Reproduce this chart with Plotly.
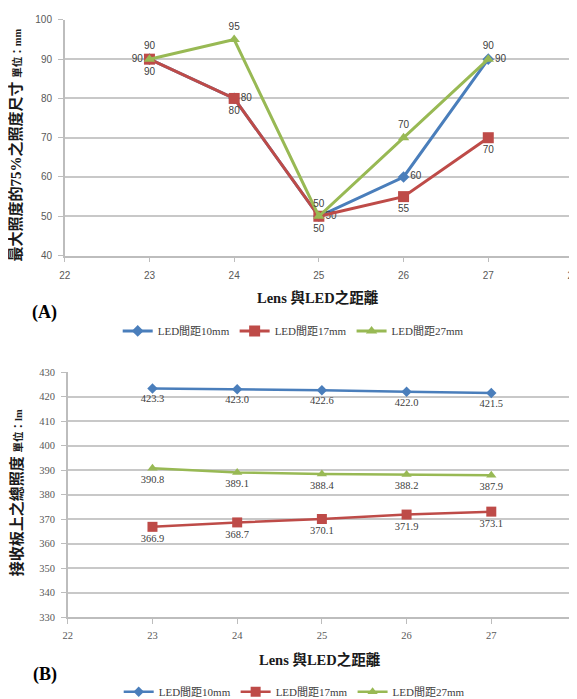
import plotly.graph_objects as go

# ---- data ----
x_dist = [23, 24, 25, 26, 27]
series_names = ["LED間距10mm", "LED間距17mm", "LED間距27mm"]

a_led10 = [90, 80, 50, 60, 90]
a_led17 = [90, 80, 50, 55, 70]
a_led27 = [90, 95, 50, 70, 90]

b_led10 = [423.3, 423.0, 422.6, 422.0, 421.5]
b_led17 = [366.9, 368.7, 370.1, 371.9, 373.1]
b_led27 = [390.8, 389.1, 388.4, 388.2, 387.9]

a_ytitle = "最大照度的75%之照度尺寸 <span style='font-size:10.5px'>單位：mm</span>"
b_ytitle = "接收板上之總照度 <span style='font-size:10.5px'>單位：lm</span>"
x_title = "Lens 與LED之距離"

colors = ["#4A7EBB", "#BE4B48", "#98B954"]
symbols = ["diamond", "square", "triangle-up"]

W, H = 577, 699
SERIF = "Liberation Serif, Noto Sans CJK TC"
SANS = "Liberation Sans, Noto Sans CJK TC"

# screen-to-figure compensation (page offset / scale observed in rendering)
SX, SY, OFF = 0.973, 0.978, 16.0


def px_x(t):
    return (t / SX - OFF) / W


def px_y(t):
    return 1 - (t / SY - OFF) / H


fig = go.Figure()

# ---- chart A ----
a_pos = [
    ["middle left", "middle right", "middle right", "middle right", "middle right"],
    ["bottom center"] * 5,
    ["top center"] * 5,
]
for i, ys in enumerate([a_led10, a_led17, a_led27]):
    fig.add_trace(go.Scatter(
        x=x_dist, y=ys, name=series_names[i], mode="lines+markers+text",
        text=[f"{v:g}" for v in ys], textposition=a_pos[i],
        textfont=dict(family=SANS, size=10, color="#404040"),
        line=dict(color=colors[i], width=3),
        marker=dict(symbol=symbols[i], size=[9, 11, 10][i], color=colors[i]),
        xaxis="x", yaxis="y", legend="legend", cliponaxis=False,
    ))

# ---- chart B ----
for i, ys in enumerate([b_led10, b_led17, b_led27]):
    fig.add_trace(go.Scatter(
        x=x_dist, y=ys, name=series_names[i], mode="lines+markers+text",
        text=[f"{v:.1f}" for v in ys], textposition="bottom center",
        textfont=dict(family=SERIF, size=10.5, color="#404040"),
        line=dict(color=colors[i], width=2.5),
        marker=dict(symbol=symbols[i], size=[8, 10, 9][i], color=colors[i]),
        xaxis="x2", yaxis="y2", legend="legend2", cliponaxis=False,
    ))

axis_common = dict(showline=True, linecolor="#bdbdbd", linewidth=1.5,
                   ticks="outside", tickcolor="#bdbdbd", ticklen=5,
                   zeroline=False, ticklabeloverflow="allow")

fig.update_layout(
    width=W, height=H,
    margin=dict(l=0, r=0, t=0, b=0),
    paper_bgcolor="white", plot_bgcolor="white",
    xaxis=dict(domain=[px_x(66), px_x(571)], range=[22, 28], dtick=1,
               showgrid=False, anchor="y", ticklabelstandoff=5,
               tickfont=dict(family=SANS, size=10, color="#595959"),
               **axis_common),
    yaxis=dict(domain=[px_y(256), 1 - 6 / H], range=[40, 100], dtick=10,
               showgrid=True, gridcolor="#c8c8c8", gridwidth=1.5, anchor="x",
               tickfont=dict(family=SANS, size=10, color="#595959"),
               ticklabelstandoff=4,
               **axis_common),
    xaxis2=dict(domain=[px_x(69), px_x(574)], range=[22, 28], dtick=1,
                showgrid=False, anchor="y2", ticklabelstandoff=2,
                tickfont=dict(family=SERIF, size=10.5, color="#595959"),
                **axis_common),
    yaxis2=dict(domain=[px_y(616), px_y(372)], range=[330, 430], dtick=10,
                showgrid=True, gridcolor="#c8c8c8", gridwidth=1.5, anchor="x2",
                tickfont=dict(family=SERIF, size=10.5, color="#595959"),
                ticklabelstandoff=4,
                **axis_common),
    legend=dict(orientation="h", x=px_x(293), y=px_y(331), xanchor="center",
                yanchor="middle", font=dict(family=SERIF, size=11, color="#404040"),
                bgcolor="rgba(0,0,0,0)"),
    legend2=dict(orientation="h", x=px_x(294), y=px_y(690), xanchor="center",
                 yanchor="middle", font=dict(family=SERIF, size=11, color="#404040"),
                 bgcolor="rgba(0,0,0,0)"),
    showlegend=True,
)

annots = [
    dict(text="<b>" + a_ytitle + "</b>", x=px_x(18), y=px_y(146), textangle=-90,
         font=dict(family=SERIF, size=15, color="#1a1a1a")),
    dict(text="<b>" + b_ytitle + "</b>", x=px_x(18), y=px_y(492), textangle=-90,
         font=dict(family=SERIF, size=15, color="#1a1a1a")),
    dict(text="<b>" + x_title + "</b>", x=px_x(318), y=px_y(298),
         font=dict(family=SERIF, size=14.5, color="#1a1a1a")),
    dict(text="<b>" + x_title + "</b>", x=px_x(320), y=px_y(658),
         font=dict(family=SERIF, size=14.5, color="#1a1a1a")),
    dict(text="<b>(A)</b>", x=px_x(46), y=px_y(313),
         font=dict(family=SERIF, size=18, color="black")),
    dict(text="<b>(B)</b>", x=px_x(46), y=px_y(673),
         font=dict(family=SERIF, size=18, color="black")),
]
for a in annots:
    fig.add_annotation(xref="paper", yref="paper", showarrow=False,
                       xanchor="center", yanchor="middle", **a)

fig.write_html("out.html")
